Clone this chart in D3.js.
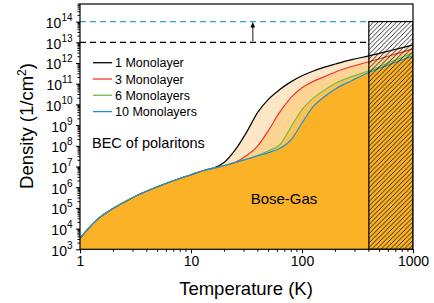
<!DOCTYPE html>
<html>
<head>
<meta charset="utf-8">
<script src="https://cdn.jsdelivr.net/npm/d3@7"></script>
<style>
  body { margin: 0; background: #fff; }
  svg { display: block; font-family: "Liberation Sans", Arial, sans-serif; }
</style>
</head>
<body>
<script>
// temperature samples (K) shared by every series
var tempK = [1, 1.4, 2, 3, 5, 7, 10, 13.5, 16, 20, 25, 32, 40, 50, 63, 80, 100, 125, 160, 200, 280, 400, 630, 1000];

// critical densities (1/cm^2)
var mono1  = [3.4e3, 2.5e4, 9.5e4, 3.2e5, 1.05e6, 2.1e6, 4.0e6, 6.8e6, 8.5e6, 1.6e7, 6.3e7, 5.0e8, 4.2e9, 1.8e10, 5.2e10, 1.26e11, 2.4e11, 4.0e11, 6.3e11, 8.9e11, 1.45e12, 2.2e12, 4.0e12, 7.4e12];
var mono3  = [3.4e3, 2.5e4, 9.5e4, 3.2e5, 1.05e6, 2.1e6, 4.0e6, 6.8e6, 8.3e6, 1.12e7, 1.58e7, 3.5e7, 1.0e8, 5.6e8, 4.2e9, 2.2e10, 6.3e10, 1.26e11, 2.2e11, 3.7e11, 6.8e11, 1.15e12, 2.3e12, 4.8e12];
var mono6  = [3.4e3, 2.5e4, 9.5e4, 3.2e5, 1.05e6, 2.1e6, 4.0e6, 6.8e6, 8.3e6, 1.12e7, 1.58e7, 2.3e7, 3.5e7, 5.8e7, 1.12e8, 8.5e8, 5.6e9, 1.9e10, 5.0e10, 1.05e11, 2.2e11, 4.2e11, 1.12e12, 3.2e12];
var mono10 = [3.4e3, 2.5e4, 9.5e4, 3.2e5, 1.05e6, 2.1e6, 4.0e6, 6.8e6, 8.3e6, 1.12e7, 1.58e7, 2.3e7, 3.3e7, 4.7e7, 7.4e7, 2.0e8, 1.26e9, 7.4e9, 2.4e10, 5.6e10, 1.4e11, 3.5e11, 8.9e11, 2.2e12];

var seriesNames = ["1 Monolayer", "3 Monolayer", "6 Monolayers", "10 Monolayers"];
var seriesColors = ["#000000", "#f2312b", "#72bf44", "#1f8fd6"];
var bandColors = ["#fee7c6", "#fdd493", "#fcc253", "#fbb226"]; // black-red, red-green, green-blue, below blue

var hatchT = [400, 1000];
var hatchN = [1e3, 1e14];
var levels = [1e13, 1e14];
var levelColors = ["#000000", "#2e9fd8"];
var arrowT = 36;

var yTicks = d3.range(3, 15);
var xTicks = [1, 10, 100, 1000];

var W = 434, H = 303;
var svg = d3.select("body").append("svg").attr("width", W).attr("height", H);

var x = d3.scaleLog().domain([1, 1000]).range([80, 413]);
var y = d3.scaleLog().domain([1e3, Math.pow(10, 14.85)]).range([249.3, 4]);

var defs = svg.append("defs");
defs.append("clipPath").attr("id", "plot")
  .append("rect").attr("x", 80).attr("y", 4).attr("width", 333).attr("height", 245.3);
var pat = defs.append("pattern").attr("id", "hatch")
  .attr("patternUnits", "userSpaceOnUse").attr("width", 4.6).attr("height", 4.6);
pat.append("path")
  .attr("d", "M-1,1 L1,-1 M0,4.6 L4.6,0 M3.6,5.6 L5.6,3.6")
  .attr("stroke", "#000").attr("stroke-width", 0.8);

var series = [mono1, mono3, mono6, mono10];
var g = svg.append("g").attr("clip-path", "url(#plot)");

// filled bands
var band = function(lo, hi) {
  return d3.area()
    .x(function(d, i) { return x(tempK[i]); })
    .y0(function(d, i) { return lo ? y(lo[i]) : y(1e3); })
    .y1(function(d, i) { return y(hi[i]); })
    .curve(d3.curveMonotoneX)(tempK);
};
g.append("path").attr("d", band(mono3, mono1)).attr("fill", bandColors[0]);
g.append("path").attr("d", band(mono6, mono3)).attr("fill", bandColors[1]);
g.append("path").attr("d", band(mono10, mono6)).attr("fill", bandColors[2]);
g.append("path").attr("d", band(null, mono10)).attr("fill", bandColors[3]);

var line = d3.line()
  .x(function(d, i) { return x(tempK[i]); })
  .y(function(d) { return y(d); })
  .curve(d3.curveMonotoneX);

// black first, blue ends up on top
series.forEach(function(s, i) {
  g.append("path").attr("d", line(s)).attr("fill", "none")
    .attr("stroke", seriesColors[i]).attr("stroke-width", 1.2);
});

// hatched box
g.append("rect")
  .attr("x", x(hatchT[0])).attr("y", y(hatchN[1]))
  .attr("width", x(hatchT[1]) - x(hatchT[0])).attr("height", y(hatchN[0]) - y(hatchN[1]))
  .attr("fill", "url(#hatch)").attr("stroke", "#000").attr("stroke-width", 1.2);

// dashed density levels
levels.forEach(function(v, i) {
  svg.append("line")
    .attr("x1", x(1)).attr("x2", x(hatchT[0]))
    .attr("y1", y(v)).attr("y2", y(v))
    .attr("stroke", levelColors[i]).attr("stroke-width", 1.2)
    .attr("stroke-dasharray", "6,4");
});

// arrow between the levels
svg.append("line")
  .attr("x1", x(arrowT)).attr("x2", x(arrowT))
  .attr("y1", y(levels[0]) - 1).attr("y2", y(levels[1]) + 5)
  .attr("stroke", "#666").attr("stroke-width", 1.5);
svg.append("path")
  .attr("d", "M" + (x(arrowT) - 2.3) + "," + (y(levels[1]) + 6) + " L" + x(arrowT) + "," + (y(levels[1]) + 0.5) + " L" + (x(arrowT) + 2.3) + "," + (y(levels[1]) + 6) + "Z")
  .attr("fill", "#000");

// frame
svg.append("rect").attr("x", 80).attr("y", 4).attr("width", 333).attr("height", 245.3)
  .attr("fill", "none").attr("stroke", "#000").attr("stroke-width", 1.2);

// x axis
var xAxis = d3.axisBottom(x).tickValues(xTicks).tickFormat(d3.format("d")).tickSize(4).tickPadding(3);
var xMinor = [];
[1, 10, 100].forEach(function(b) { for (var m = 2; m <= 9; m++) xMinor.push(b * m); });
var gx = svg.append("g").attr("transform", "translate(0,249.3)");
gx.call(xAxis);
gx.selectAll(".minor").data(xMinor).enter().append("line")
  .attr("x1", function(d) { return x(d); }).attr("x2", function(d) { return x(d); })
  .attr("y1", 0).attr("y2", 2.5).attr("stroke", "#000");
gx.select(".domain").remove();
gx.selectAll("text").attr("font-size", 14).attr("font-family", "Liberation Sans, Arial, sans-serif").attr("fill", "#000");

// y axis
var yAxis = d3.axisLeft(y).tickValues(yTicks.map(function(e) { return Math.pow(10, e); })).tickFormat("").tickSize(4);
var gy = svg.append("g").attr("transform", "translate(80,0)");
gy.call(yAxis);
gy.select(".domain").remove();
var yMinor = [];
d3.range(3, 15).forEach(function(e) { for (var m = 2; m <= 9; m++) { var v = m * Math.pow(10, e); if (v <= y.domain()[1]) yMinor.push(v); } });
gy.selectAll(".minor").data(yMinor).enter().append("line")
  .attr("x1", 0).attr("x2", -2.5)
  .attr("y1", function(d) { return y(d); }).attr("y2", function(d) { return y(d); })
  .attr("stroke", "#000");
yTicks.forEach(function(e) {
  var t = svg.append("text").attr("x", 72.5).attr("y", y(Math.pow(10, e)) + 6.5)
    .attr("text-anchor", "end").attr("font-size", 14).attr("fill", "#000");
  t.append("tspan").text("10");
  t.append("tspan").attr("dy", -7).attr("font-size", 10).text(e);
});

// axis titles
svg.append("text").attr("x", 246).attr("y", 295).attr("text-anchor", "middle")
  .attr("font-size", 18.5).text("Temperature (K)");
var yt = svg.append("text").attr("transform", "translate(33,126) rotate(-90)")
  .attr("text-anchor", "middle").attr("font-size", 18.5);
yt.append("tspan").text("Density (1/cm");
yt.append("tspan").attr("dy", -7).attr("font-size", 12).text("2");
yt.append("tspan").attr("dy", 7).text(")");

// legend
seriesNames.forEach(function(n, i) {
  var yy = 62.7 + i * 16.3;
  svg.append("line").attr("x1", 93).attr("x2", 112).attr("y1", yy).attr("y2", yy)
    .attr("stroke", seriesColors[i]).attr("stroke-width", 1.3);
  svg.append("text").attr("x", 115).attr("y", yy + 4.5).attr("font-size", 12.5).text(n);
});

// region labels
svg.append("text").attr("x", 92).attr("y", 148).attr("font-size", 14.5).text("BEC of polaritons");
svg.append("text").attr("x", 284).attr("y", 204).attr("text-anchor", "middle").attr("font-size", 15).text("Bose-Gas");
</script>
</body>
</html>
